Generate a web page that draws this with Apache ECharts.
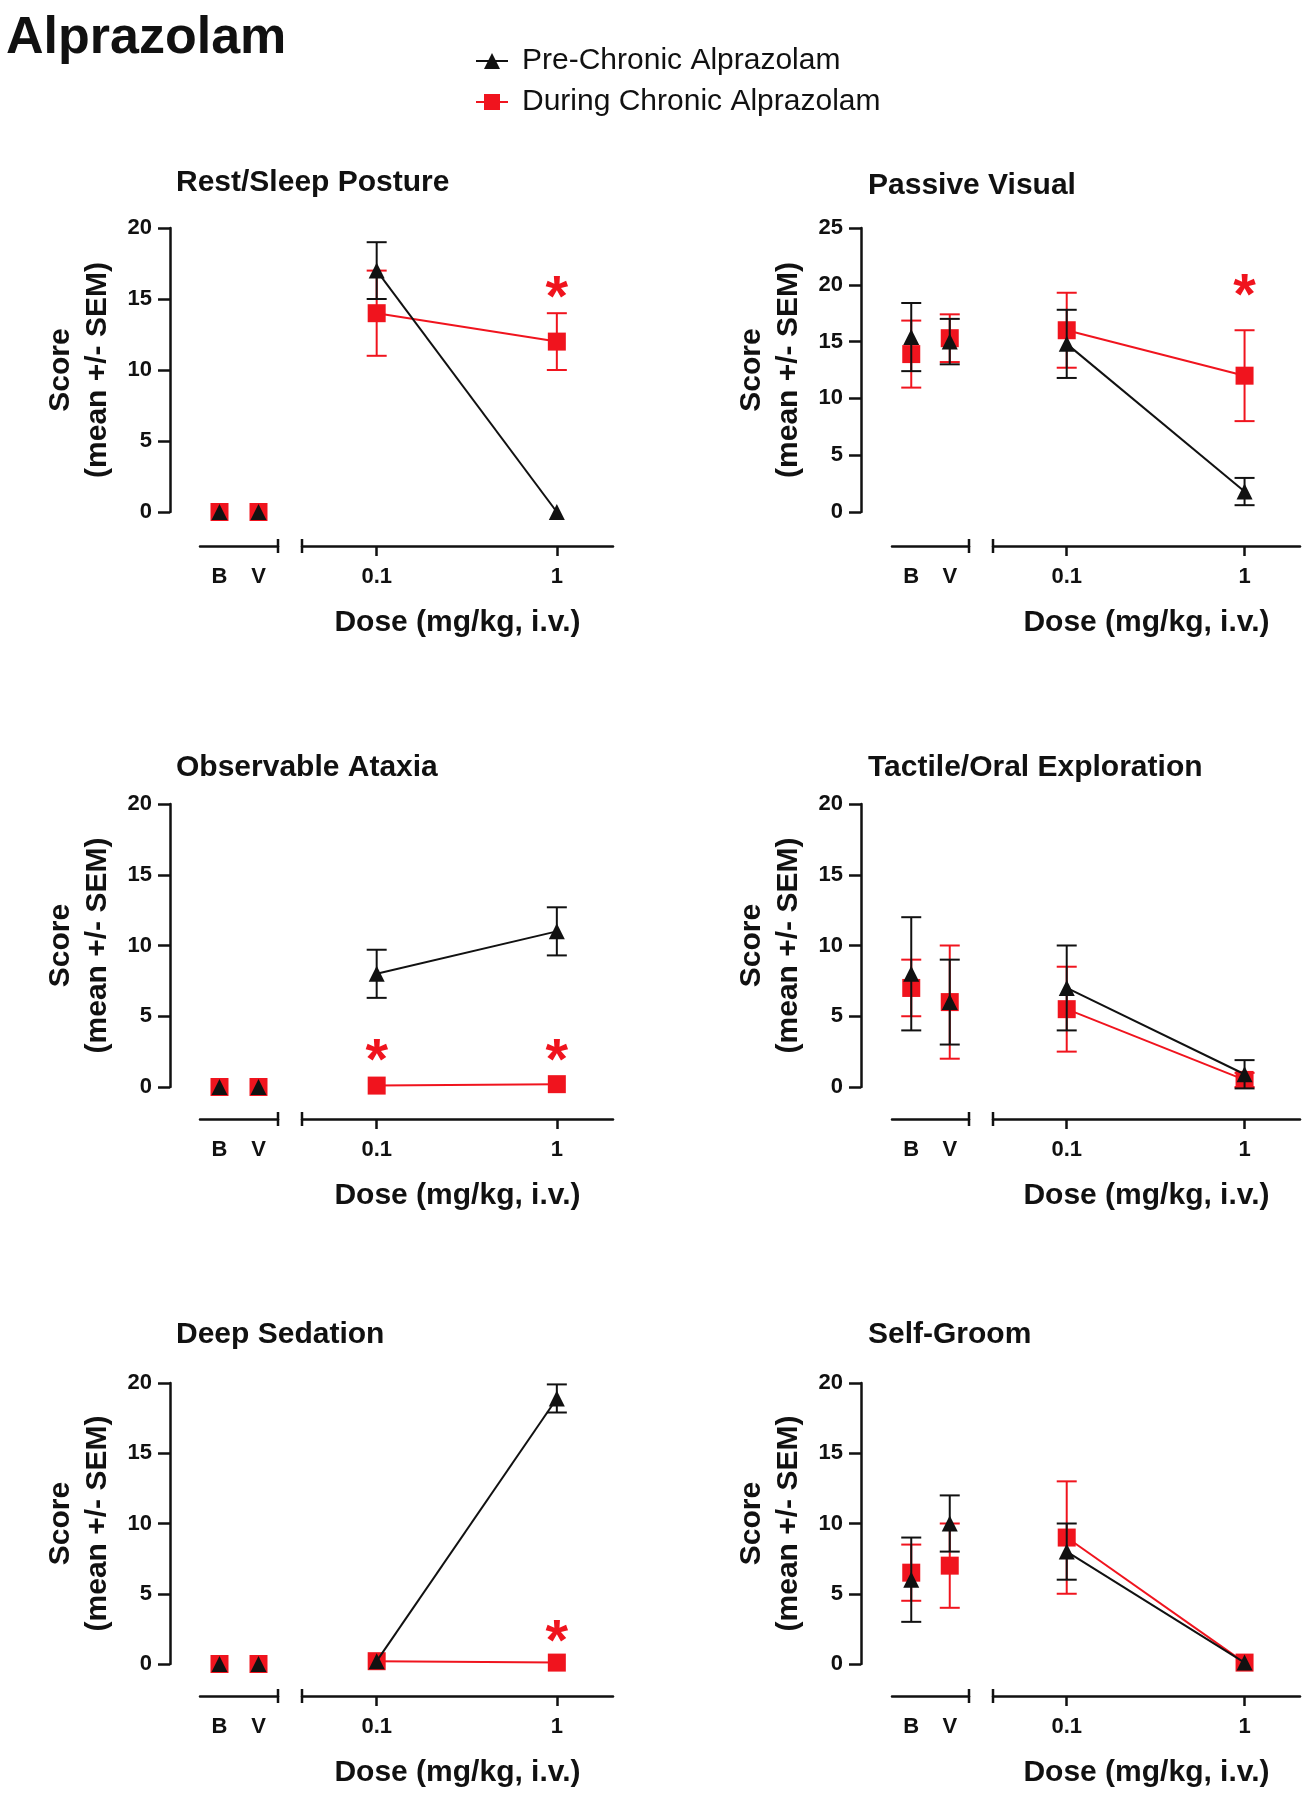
<!DOCTYPE html>
<html><head><meta charset="utf-8">
<script src="https://cdn.jsdelivr.net/npm/echarts@6/dist/echarts.min.js"></script>
<style>html,body{margin:0;padding:0;background:#fff}#c{width:1313px;height:1800px}</style>
</head><body><div id="c"></div>
<script>
// ---------------- data ----------------
const mainTitle = 'Alprazolam';
const seriesNames = ['Pre-Chronic Alprazolam', 'During Chronic Alprazolam'];
const panelTitles = ['Rest/Sleep Posture', 'Passive Visual', 'Observable Ataxia',
                     'Tactile/Oral Exploration', 'Deep Sedation', 'Self-Groom'];
const baselineLabels = ['B', 'V'];
const doseValues = [0.1, 1];
const doseTickLabels = ['0.1', '1'];
const yMaxByPanel = [20, 25, 20, 20, 20, 20];
const yInterval = 5;
const xAxisName = 'Dose (mg/kg, i.v.)';
const yAxisName = 'Score\n(mean +/- SEM)';

// Pre-Chronic (black triangles): [B, V] and [0.1, 1]
const preMeanBaseline = [[0, 0], [15.4, 15.0], [0, 0], [8, 6], [0, 0], [6, 10]];
const preSemBaseline  = [[0, 0], [3.0, 2.0], [0, 0], [4, 3], [0, 0], [3, 2]];
const preMeanDose     = [[17, 0], [14.8, 1.8], [8, 11], [7, 0.9], [0.2, 18.9], [8, 0.1]];
const preSemDose      = [[2, 0], [3.0, 1.2], [1.7, 1.7], [3, 1], [0, 1], [2, 0]];

// During Chronic (red squares)
const durMeanBaseline = [[0, 0], [13.9, 15.3], [0, 0], [7, 6], [0, 0], [6.5, 7]];
const durSemBaseline  = [[0, 0], [2.95, 2.1], [0, 0], [2, 4], [0, 0], [2, 3]];
const durMeanDose     = [[14, 12], [16, 12], [0.1, 0.2], [5.5, 0.5], [0.2, 0.1], [9, 0.1]];
const durSemDose      = [[3, 2], [3.3, 4], [0, 0], [3, 0.5], [0, 0], [4, 0]];

// significance asterisks: [dose, y]
const asterisks = [[[1, 15.9]], [[1, 20.1]], [[0.1, 2.7], [1, 2.7]], [], [[1, 2.4]], []];

// ---------------- layout / style ----------------
const FONT = 'Liberation Sans, Arial, Helvetica, sans-serif';
const BLACK = '#111111';
const RED = '#f0141e';
const DOSE_MIN = 0.0385, DOSE_MAX = 2.05;
const COLS = [
  {axisX: 170, aL: 200, aR: 278, bL: 302, bR: 613, titleX: 176},
  {axisX: 861, aL: 892, aR: 969, bL: 993, bR: 1300, titleX: 868}
];
const ROWS = [
  {top: 228, y0: 512, xAxisY: 546, titleY: [183, 186]},
  {top: 804, y0: 1087, xAxisY: 1119, titleY: [768, 768]},
  {top: 1383, y0: 1664, xAxisY: 1696, titleY: [1335, 1335]}
];

const chart = echarts.init(document.getElementById('c'), null, {renderer: 'canvas'});

const titles = [{
  text: mainTitle, left: 6, top: 13, padding: 0,
  textStyle: {fontSize: 52, fontWeight: 'bold', color: BLACK, fontFamily: FONT}
}];
const grids = [], xAxes = [], yAxes = [], series = [], graphics = [];

function errRender(color) {
  return function (params, api) {
    const x = api.value(0), m = api.value(1), s = api.value(2);
    if (!s) return null;
    const t = api.coord([x, m + s]), b = api.coord([x, m - s]);
    const hw = 10;
    const st = {stroke: color, lineWidth: 2};
    return {type: 'group', children: [
      {type: 'line', shape: {x1: t[0], y1: t[1], x2: b[0], y2: b[1]}, style: st},
      {type: 'line', shape: {x1: t[0] - hw, y1: t[1], x2: t[0] + hw, y2: t[1]}, style: st},
      {type: 'line', shape: {x1: b[0] - hw, y1: b[1], x2: b[0] + hw, y2: b[1]}, style: st}
    ]};
  };
}

const axisLineStyle = {color: BLACK, width: 2.5};
const tickLabelStyle = {fontSize: 22, fontWeight: 'bold', color: BLACK, fontFamily: FONT};

panelTitles.forEach((ptitle, i) => {
  const col = COLS[i % 2], row = ROWS[Math.floor(i / 2)];
  const h = row.y0 - row.top;
  const xOff = row.xAxisY - row.y0;

  titles.push({
    text: ptitle, left: col.titleX, top: row.titleY[i % 2] - 15, padding: 0,
    textStyle: {fontSize: 30, fontWeight: 'bold', color: BLACK, fontFamily: FONT}
  });

  const gA = grids.length;
  grids.push({left: col.aL, top: row.top, width: col.aR - col.aL, height: h});
  const gB = grids.length;
  grids.push({left: col.bL, top: row.top, width: col.bR - col.bL, height: h});

  const xa = xAxes.length;
  xAxes.push({
    type: 'category', gridIndex: gA, data: baselineLabels, boundaryGap: true,
    position: 'bottom', offset: xOff,
    axisLine: {onZero: false, lineStyle: axisLineStyle},
    axisTick: {alignWithLabel: true, length: 10, lineStyle: {color: BLACK, width: 2.5}},
    axisLabel: Object.assign({margin: 20}, tickLabelStyle),
    splitLine: {show: false}
  });
  const xb = xAxes.length;
  xAxes.push({
    type: 'log', logBase: 10, gridIndex: gB, min: DOSE_MIN, max: DOSE_MAX,
    position: 'bottom', offset: xOff,
    name: xAxisName, nameLocation: 'middle', nameGap: 62,
    nameTextStyle: {fontSize: 30, fontWeight: 'bold', color: BLACK, fontFamily: FONT},
    axisLine: {onZero: false, lineStyle: axisLineStyle},
    axisTick: {customValues: doseValues, length: 10, lineStyle: {color: BLACK, width: 2.5}},
    axisLabel: Object.assign({
      customValues: doseValues, margin: 20,
      formatter: v => {
        const k = doseValues.findIndex(d => Math.abs(d - v) < 1e-9);
        return k >= 0 ? doseTickLabels[k] : '';
      }
    }, tickLabelStyle),
    minorTick: {show: false}, splitLine: {show: false}, minorSplitLine: {show: false}
  });

  const ya = yAxes.length;
  yAxes.push({
    type: 'value', gridIndex: gA, min: 0, max: yMaxByPanel[i], interval: yInterval,
    position: 'left', offset: col.aL - col.axisX,
    name: yAxisName, nameLocation: 'middle', nameGap: 54,
    nameTextStyle: {fontSize: 30, fontWeight: 'bold', color: BLACK, fontFamily: FONT, lineHeight: 37},
    axisLine: {show: true, onZero: false, lineStyle: axisLineStyle},
    axisTick: {show: true, length: 12, lineStyle: {color: BLACK, width: 2.5}},
    axisLabel: Object.assign({margin: 18}, tickLabelStyle),
    splitLine: {show: false}
  });
  const yb = yAxes.length;
  yAxes.push({
    type: 'value', gridIndex: gB, min: 0, max: yMaxByPanel[i], interval: yInterval,
    show: false, splitLine: {show: false}
  });

  // ---- During Chronic (red) ----
  series.push({
    type: 'line', name: seriesNames[1], xAxisIndex: xb, yAxisIndex: yb,
    data: doseValues.map((d, k) => [d, durMeanDose[i][k]]),
    symbol: 'rect', symbolSize: 18, clip: false, z: 3,
    itemStyle: {color: RED, opacity: 1}, lineStyle: {color: RED, width: 2}
  });
  series.push({
    type: 'custom', xAxisIndex: xb, yAxisIndex: yb, clip: false, z: 2,
    data: doseValues.map((d, k) => [d, durMeanDose[i][k], durSemDose[i][k]]),
    encode: {x: 0, y: 1}, renderItem: errRender(RED)
  });
  series.push({
    type: 'custom', xAxisIndex: xa, yAxisIndex: ya, clip: false, z: 2,
    data: baselineLabels.map((b, k) => [k, durMeanBaseline[i][k], durSemBaseline[i][k]]),
    encode: {x: 0, y: 1}, renderItem: errRender(RED)
  });
  series.push({
    type: 'scatter', name: seriesNames[1], xAxisIndex: xa, yAxisIndex: ya,
    data: baselineLabels.map((b, k) => [k, durMeanBaseline[i][k]]),
    symbol: 'rect', symbolSize: 18, clip: false, z: 3, itemStyle: {color: RED, opacity: 1}
  });

  // ---- Pre-Chronic (black) ----
  series.push({
    type: 'line', name: seriesNames[0], xAxisIndex: xb, yAxisIndex: yb,
    data: doseValues.map((d, k) => [d, preMeanDose[i][k]]),
    symbol: 'triangle', symbolSize: 16, clip: false, z: 5,
    itemStyle: {color: BLACK, opacity: 1}, lineStyle: {color: BLACK, width: 2}
  });
  series.push({
    type: 'custom', xAxisIndex: xb, yAxisIndex: yb, clip: false, z: 4,
    data: doseValues.map((d, k) => [d, preMeanDose[i][k], preSemDose[i][k]]),
    encode: {x: 0, y: 1}, renderItem: errRender(BLACK)
  });
  series.push({
    type: 'custom', xAxisIndex: xa, yAxisIndex: ya, clip: false, z: 4,
    data: baselineLabels.map((b, k) => [k, preMeanBaseline[i][k], preSemBaseline[i][k]]),
    encode: {x: 0, y: 1}, renderItem: errRender(BLACK)
  });
  series.push({
    type: 'scatter', name: seriesNames[0], xAxisIndex: xa, yAxisIndex: ya,
    data: baselineLabels.map((b, k) => [k, preMeanBaseline[i][k]]),
    symbol: 'triangle', symbolSize: 16, clip: false, z: 5, itemStyle: {color: BLACK, opacity: 1}
  });

  // ---- asterisks ----
  if (asterisks[i].length) {
    series.push({
      type: 'scatter', xAxisIndex: xb, yAxisIndex: yb, data: asterisks[i],
      symbolSize: 1, clip: false, z: 6, itemStyle: {color: 'rgba(0,0,0,0)', opacity: 1},
      label: {show: true, position: 'inside', formatter: '*', fontSize: 58, opacity: 1,
              fontWeight: 'bold', color: RED, fontFamily: FONT, offset: [0, 14]}
    });
  }

  // axis break marks
  [col.aR, col.bL].forEach(x => graphics.push({
    type: 'line', silent: true,
    shape: {x1: x, y1: row.xAxisY - 7, x2: x, y2: row.xAxisY + 7},
    style: {stroke: BLACK, lineWidth: 2.5}
  }));
});

chart.setOption({
  animation: false,
  backgroundColor: '#ffffff',
  title: titles,
  legend: {
    data: seriesNames, orient: 'vertical', left: 470, top: 41,
    itemWidth: 32, itemHeight: 20, itemGap: 11, selectedMode: false,
    textStyle: {fontSize: 30, color: BLACK, fontFamily: FONT, padding: [0, 0, 0, 9]}
  },
  grid: grids, xAxis: xAxes, yAxis: yAxes, series: series, graphic: graphics
});
</script></body></html>
